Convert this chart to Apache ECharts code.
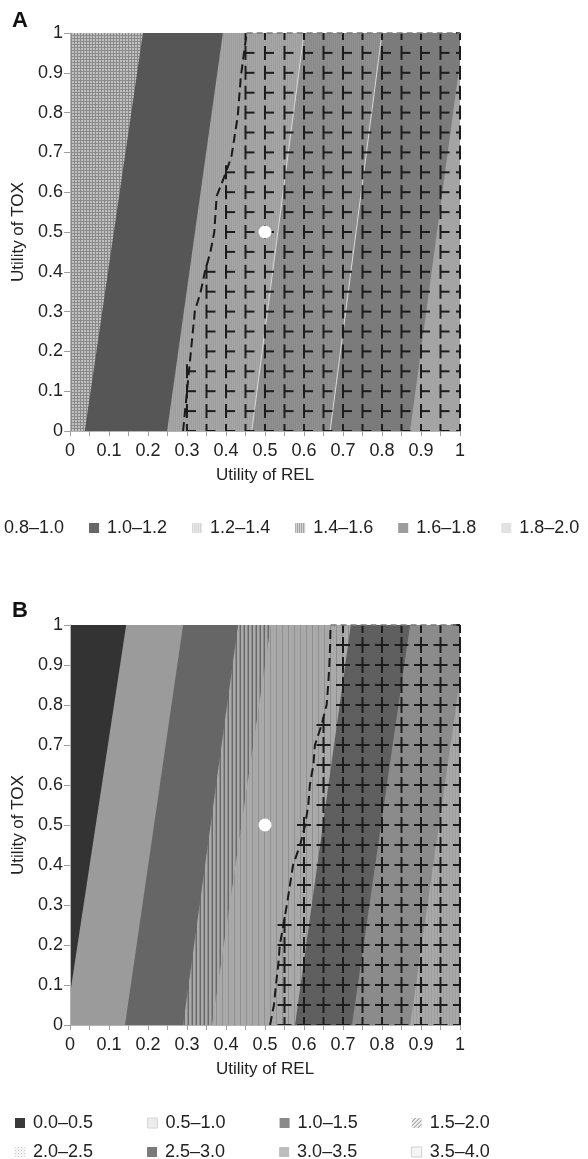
<!DOCTYPE html>
<html><head><meta charset="utf-8">
<script src="https://cdn.jsdelivr.net/npm/echarts@6/dist/echarts.min.js"></script>
<style>html,body{margin:0;padding:0;background:#fff}#c{width:588px;height:1159px}</style>
</head><body><div id="c"></div>
<script>
// ================= DATA =================
// Panel A: legend labels and left boundary of each band (Utility of REL at TOX=0 and at TOX=1)
const aBandLabels = ['0.8–1.0','1.0–1.2','1.2–1.4','1.4–1.6','1.6–1.8','1.8–2.0'];
const aBandRelAtTox0 = [0.000, 0.038, 0.249, 0.466, 0.667, 0.872];
const aBandRelAtTox1 = [0.000, 0.187, 0.392, 0.600, 0.800, 1.010];
// Panel A dashed contour (REL, TOX)
const aCurveRel = [0.290,0.300,0.310,0.320,0.335,0.346,0.360,0.370,0.376,0.400,0.414,0.430,0.438,0.453];
const aCurveTox = [0.00,0.10,0.20,0.30,0.35,0.40,0.45,0.50,0.59,0.65,0.69,0.79,0.89,1.00];
const aBasePoint = [0.5, 0.5];

// Panel B
const bBandLabels = ['0.0–0.5','0.5–1.0','1.0–1.5','1.5–2.0','2.0–2.5','2.5–3.0','3.0–3.5','3.5–4.0'];
const bBandRelAtTox0 = [0.000,-0.012,0.141,0.290,0.364,0.577,0.723,0.872];
const bBandRelAtTox1 = [0.000, 0.144,0.290,0.431,0.515,0.720,0.872,1.020];
const bCurveRel = [0.513,0.523,0.528,0.534,0.538,0.547,0.556,0.564,0.572,0.590,0.603,0.611,0.615,0.624,0.628,0.645,0.658,0.662,0.665,0.667,0.668];
const bCurveTox = [0.00,0.05,0.10,0.15,0.20,0.25,0.30,0.35,0.40,0.45,0.50,0.55,0.60,0.65,0.70,0.75,0.80,0.85,0.90,0.95,1.00];
const bBasePoint = [0.5, 0.5];

// ================= STYLES =================
const FONT = 'Liberation Sans, Arial, Helvetica, sans-serif';
function pat(w,h,fn){const c=document.createElement('canvas');c.width=w;c.height=h;const g=c.getContext('2d');fn(g);return {image:c,repeat:'repeat'};}
function vstripes(cols){return pat(cols.length,1,g=>cols.forEach((c,i)=>{g.fillStyle=c;g.fillRect(i,0,1,1);}));}
const gridPat = pat(3,3,g=>{g.fillStyle='#8a8a8a';g.fillRect(0,0,3,3);g.fillStyle='#c0c0c0';g.fillRect(0,0,2,2);});

const aFills = [gridPat,'#565656',vstripes(['#a8a8a8','#9c9c9c']),vstripes(['#919191','#888888']),'#7b7b7b','#a4a4a4'];
const aSeams = [false,false,false,true,true,false];
const aLegendFills = ['#888888','#666666',vstripes(['#d2d2d2','#ececec']),vstripes(['#9a9a9a','#dedede']),'#9c9c9c','#e2e2e2'];

const bFills = ['#333333','#9b9b9b','#666666',
  vstripes(['#686868','#a9a9a9','#a9a9a9','#8c8c8c']),
  vstripes(['#8f8f8f','#aaaaaa','#aaaaaa','#a6a6a6','#aaaaaa','#aaaaaa']),
  '#5f5f5f','#8b8b8b',vstripes(['#a9a9a9','#a9a9a9','#9d9d9d'])];
const bSeams = [false,false,false,false,false,false,false,false];
const diagPat = pat(4,4,g=>{g.fillStyle='#eeeeee';g.fillRect(0,0,4,4);g.fillStyle='#8e8e8e';for(let i=0;i<4;i++){g.fillRect(3-i,i,1,1);}});
const dotPat = pat(3,3,g=>{g.fillStyle='#f4f4f4';g.fillRect(0,0,3,3);g.fillStyle='#cfcfcf';g.fillRect(0,0,1,1);});
const bLegendFills = ['#3a3a3a','#ececec','#8a8a8a',diagPat,dotPat,'#7a7a7a','#bdbdbd','#f6f6f6'];
const bLegendBorders = [null,'#d6d6d6',null,null,null,null,null,'#cfcfcf'];

// ================= HELPERS =================
function clipHalf(poly, inside, inter){
  const out=[]; if(!poly.length) return out;
  let S=poly[poly.length-1];
  for(const E of poly){
    if(inside(E)){ if(!inside(S)) out.push(inter(S,E)); out.push(E); }
    else if(inside(S)) out.push(inter(S,E));
    S=E;
  }
  return out;
}
function clipX(poly){
  const ix=(X)=>(S,E)=>{const t=(X-S[0])/(E[0]-S[0]);return [X,S[1]+t*(E[1]-S[1])];};
  poly=clipHalf(poly,p=>p[0]>=0,ix(0));
  poly=clipHalf(poly,p=>p[0]<=1,ix(1));
  return poly;
}
function interp(xs, ys, y){
  if(y<=ys[0]) return xs[0];
  for(let i=1;i<ys.length;i++){ if(y<=ys[i]){const t=(y-ys[i-1])/(ys[i]-ys[i-1]);return xs[i-1]+t*(xs[i]-xs[i-1]);} }
  return xs[xs.length-1];
}

function bandSeries(labels, r0, r1, fills, seams, legendFills, idx){
  return labels.map((name,i)=>({
    type:'custom', name, xAxisIndex:idx, yAxisIndex:idx, silent:true, z:1, animation:false,
    itemStyle:{color: typeof legendFills[i]==='string'?legendFills[i]:'#aaaaaa'},
    data:[[r0[i], r1[i]]],
    renderItem:(params, api)=>{
      const lb=api.value(0), lt=api.value(1);
      const poly=clipX([[lb,0],[lt,1],[1,1],[1,0]]);
      const ch=[{type:'polygon', shape:{points:poly.map(p=>api.coord(p))}, style:{fill:fills[i]}}];
      if(seams[i]){const p0=api.coord([lb,0]),p1=api.coord([lt,1]);ch.push({type:'line',shape:{x1:p0[0],y1:p0[1],x2:p1[0],y2:p1[1]},style:{stroke:'#dadada',lineWidth:1}});}
      return {type:'group', children:ch};
    }
  }));
}

// hatch marks right of the dashed contour (pattern fill of that region)
function hatchSeries(curveRel, curveTox, idx, arms){
  return {type:'custom', name:'hatch'+idx, xAxisIndex:idx, yAxisIndex:idx, silent:true, z:4, animation:false,
    data:[[curveRel[0], curveTox[0]]],
    renderItem:(params, api)=>{
      const ch=[]; const st={stroke:'#1c1c1c', lineWidth:2};
      for(let j=0;j<=20;j++){
        const y=j/20; const xd=interp(curveRel,curveTox,y);
        for(let i=0;i<=20;i++){
          const x=i/20; if(x<xd-0.005) continue;
          const p=api.coord([x,y]);
          let up=arms.up, dn=arms.down, l=arms.left, r=arms.right;
          if(j===0) dn=0;
          if(j===20){up=0; l=0; r=0;}
          if(i===20){r=0; l=arms.edgeLeft;}
          ch.push({type:'line',shape:{x1:p[0],y1:p[1]-up,x2:p[0],y2:p[1]+dn},style:st});
          if(l+r>0) ch.push({type:'line',shape:{x1:p[0]-l,y1:p[1],x2:p[0]+r,y2:p[1]},style:st});
        }
      }
      return {type:'group', children:ch};
    }};
}

function curveSeries(curveRel, curveTox, idx){
  return [{type:'line', name:'contour'+idx, xAxisIndex:idx, yAxisIndex:idx, data:curveRel.map((r,i)=>[r,curveTox[i]]),
    symbol:'none', showSymbol:false, clip:false, silent:true, z:5, animation:false,
    lineStyle:{color:'#1a1a1a', width:2, type:[9,5]}},
   {type:'line', name:'top'+idx, xAxisIndex:idx, yAxisIndex:idx, data:[[curveRel[curveRel.length-1],1],[1,1]],
    symbol:'none', showSymbol:false, clip:false, silent:true, z:5, animation:false,
    lineStyle:{color:'#7a7a7a', width:1.5, type:[6,4]}}];
}

function pointSeries(pt, idx){
  return {type:'scatter', name:'point'+idx, xAxisIndex:idx, yAxisIndex:idx, data:[pt], symbolSize:13,
    itemStyle:{color:'#ffffff', opacity:1}, z:20, silent:true, animation:false};
}

function legendData(labels, fills, borders){
  return labels.map((n,i)=>({name:n, itemStyle:{color:fills[i], borderColor:(borders&&borders[i])||'transparent', borderWidth:(borders&&borders[i])?1:0}}));
}
const legendCommon = {orient:'horizontal', padding:0, itemWidth:10, itemHeight:10, icon:'rect', selectedMode:false,
  textStyle:{fontSize:18, color:'#222', fontFamily:FONT, padding:[0,0,0,3]}};

const axisText = {fontSize:18, color:'#222', fontFamily:FONT};
function xAx(idx){return {gridIndex:idx, type:'value', min:0, max:1, interval:0.1, z:10,
  name:'Utility of REL', nameLocation:'middle', nameGap:36, nameTextStyle:{fontSize:17,color:'#222',fontFamily:FONT},
  axisLine:{show:true, lineStyle:{color:'#b4b4b4', width:1}},
  axisTick:{show:true, length:5, lineStyle:{color:'#a0a0a0'}},
  minorTick:{show:true, splitNumber:2, length:5, lineStyle:{color:'#a0a0a0'}},
  axisLabel:Object.assign({margin:11}, axisText), splitLine:{show:false}};}
function yAx(idx){return {gridIndex:idx, type:'value', min:0, max:1, interval:0.1, z:10,
  name:'Utility of TOX', nameLocation:'middle', nameGap:40, nameTextStyle:{fontSize:17,color:'#222',fontFamily:FONT},
  axisLine:{show:true, lineStyle:{color:'#b4b4b4', width:1}},
  axisTick:{show:true, length:6, lineStyle:{color:'#a0a0a0'}},
  axisLabel:Object.assign({margin:7}, axisText), splitLine:{show:false}};}

const chart = echarts.init(document.getElementById('c'), null, {renderer:'canvas'});
chart.setOption({
  animation:false,
  backgroundColor:'#ffffff',
  textStyle:{fontFamily:FONT},
  title:[
    {text:'A', left:12, top:10, padding:0, textStyle:{fontSize:22, fontWeight:'bold', color:'#111', fontFamily:FONT}},
    {text:'B', left:12, top:600, padding:0, textStyle:{fontSize:22, fontWeight:'bold', color:'#111', fontFamily:FONT}}
  ],
  grid:[{left:70, top:33, width:390, height:398},{left:70, top:625, width:390, height:400}],
  xAxis:[xAx(0), xAx(1)],
  yAxis:[yAx(0), yAx(1)],
  legend:[
    Object.assign({}, legendCommon, {left:-14, top:519, itemGap:25, data:legendData(aBandLabels, aLegendFills)}),
    Object.assign({}, legendCommon, {left:15, top:1114, itemGap:54, data:legendData(bBandLabels.slice(0,4), bLegendFills.slice(0,4), bLegendBorders.slice(0,4))}),
    Object.assign({}, legendCommon, {left:15, top:1143, itemGap:54, data:legendData(bBandLabels.slice(4), bLegendFills.slice(4), bLegendBorders.slice(4))})
  ],
  series:[].concat(
    bandSeries(aBandLabels, aBandRelAtTox0, aBandRelAtTox1, aFills, aSeams, aLegendFills, 0),
    [hatchSeries(aCurveRel, aCurveTox, 0, {up:7, down:7, left:0, right:9, edgeLeft:4})],
    curveSeries(aCurveRel, aCurveTox, 0),
    [pointSeries(aBasePoint, 0)],
    bandSeries(bBandLabels, bBandRelAtTox0, bBandRelAtTox1, bFills, bSeams, bLegendFills, 1),
    [hatchSeries(bCurveRel, bCurveTox, 1, {up:8, down:8, left:7, right:7, edgeLeft:7})],
    curveSeries(bCurveRel, bCurveTox, 1),
    [pointSeries(bBasePoint, 1)]
  )
});
</script></body></html>
